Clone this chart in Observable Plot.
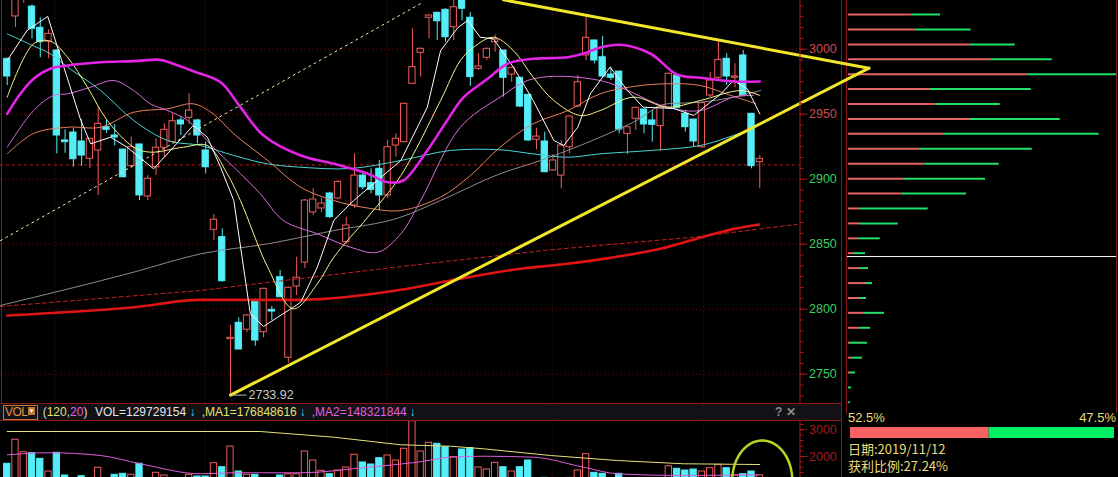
<!DOCTYPE html>
<html><head><meta charset="utf-8">
<script src="https://cdn.jsdelivr.net/npm/d3@7"></script>
<script src="https://cdn.jsdelivr.net/npm/@observablehq/plot@0.6"></script>
<style>
html,body{margin:0;padding:0;background:#000;}
#root{position:relative;width:1118px;height:477px;overflow:hidden;background:#000;font-family:"Liberation Sans",Arial,"Noto Sans CJK SC",sans-serif;}
.abs{position:absolute;white-space:nowrap;}
.layer{position:absolute;left:0;top:0;}
</style></head><body><div id="root"></div>
<script>
// ---------------- DATA ----------------
const opens  = [2992.6,3025.2,3040,3032.8,3016.5,3005.7,2999,2929.8,2935.9,2929,2915.7,2922.1,2940,2933.6,2922.8,2910,2926.7,2886.7,2909.2,2924.2,2928.5,2945.2,2947.2,2945.2,2922.1,2861.1,2855.4,2777,2789.5,2784.2,2806.7,2782.3,2799.5,2824.6,2762.6,2817.5,2835.9,2874.4,2877.5,2889,2885.2,2851.5,2879.8,2902.8,2896.9,2908,2887.5,2925.9,2928.5,2973.4,2997.2,3024.2,3028,3030.3,3016.9,3040,3024.2,2984.9,2993.4,3005.4,2999,2980.5,2978,2964.9,2930.3,2929,2906.7,2902.8,2924.6,2955.9,2995.2,3006.7,2993.8,2980.5,2982.8,2934.9,2946.5,2953.6,2945.2,2940.8,2954.9,2979.8,2950.3,2945.9,2924.6,2964.4,2978,2992.6,2978,2995.2,2950.3,2913.1];
const highs  = [2993,3042,3052,3034,3024.2,3014.9,2999.5,2938,2938.8,2945.7,2931.1,2954.9,2945.2,2942.1,2923,2932.3,2927,2902.8,2931.1,2942.6,2950.3,2947.7,2965.7,2946,2928.5,2872.8,2861.8,2787.5,2793.4,2796,2808,2816,2802.1,2829.8,2817,2840,2884.4,2892.8,2885.2,2890,2899,2870.8,2919.5,2905,2908,2914.4,2929.8,2934.9,2958.5,3015.7,3001,3026.5,3028.5,3031,3040,3042,3028.2,2996.5,3001,3011,2999,2986,2978,2965,2939.2,2936.2,2919,2929.8,2948.5,2979.8,3024.6,3007,3009.8,2986.2,2983,2940.5,2955,2954,2952.8,2956,2981.5,2980,2952.8,2946,2959,2982.3,3007.2,2996.5,2988.8,2999,2950.5,2918.2];
const lows   = [2972,3016.7,3035.2,3008,2993.4,2992.6,2919.5,2920,2909.2,2909.8,2908,2887.5,2935.2,2925.4,2901,2908.2,2883.6,2883.6,2902.8,2916.9,2928,2933.6,2942.1,2927.2,2904.2,2852.8,2821,2733.92,2769,2782,2771.5,2778,2791.3,2809,2758.5,2810.5,2831.3,2872,2874.4,2869.8,2884,2850,2877.5,2892,2888.8,2875.9,2885.2,2916.9,2928,2973,2978.5,3008,3006.7,3005.4,3006.7,3022,2971.3,2983.6,2991.3,2997.7,2963.1,2974.6,2955,2929,2922.6,2905,2906,2892.6,2919.5,2955,2991.3,2988.8,2977.5,2975.9,2934.9,2919,2937.5,2934.9,2928.5,2921.5,2954,2954,2936.2,2924.6,2924,2962.8,2976.7,2972.1,2970.3,2964,2908,2892.6];
const closes = [2979,3038,3048,3015.7,3005.4,3011.8,2933.6,2928.5,2915.4,2918.2,2931.1,2942.6,2938,2932.1,2901.5,2924.6,2887.5,2900.3,2924.2,2938,2944.6,2942.1,2952.8,2933.6,2909.2,2868.8,2821.5,2778,2769,2795.2,2775.9,2815.7,2798.2,2809.2,2816.5,2824.2,2883.6,2884.4,2881.3,2870.8,2897.9,2864.4,2902.8,2893.8,2891.8,2887.5,2924.6,2931.1,2958,2986.2,3000.3,3025.9,3021.5,3009.2,3032.3,3031.1,2978.5,2986.7,3000.3,3007.5,2978,2985.7,2955.9,2929.8,2932.8,2905.4,2914.4,2925.9,2948.2,2974.6,3008.8,2991.3,2979,2978,2938.2,2940,2954.9,2942.1,2941.8,2955.4,2981.1,2954.9,2940,2929,2958.5,2975.9,2991.8,2979,2979,2964.4,2910,2915.7];
const volumes = [1727,2626,2161,2124,1914,1438,2139,1289,1150,1262,1100,1577,1000,1315,1352,1315,1727,1150,1390,1289,1100,1000,1315,1251,1251,1749,1599,2375,1438,1315,1315,1150,1100,1289,1337,1337,2187,1850,1465,1337,1476,1588,2064,1775,1701,1936,2038,1850,2289,3320,2187,2513,2476,2348,1974,2262,2311,1588,1513,1764,1599,1438,1599,1850,1150,1200,1100,1150,1200,1476,2088,1390,1352,1150,1352,1150,1100,1100,1050,1150,1637,1540,1476,1513,1438,1562,1689,1562,1300,1337,1438,1297];

// moving-average style lines: [candle index, price]
const maWhite = [[0,2991.3],[2.4,3014.4],[4.9,3025.2],[8.9,2945.2],[10.1,2927.2],[12.5,2932.3],[14.5,2924.6],[17.7,2908],[20.1,2924.6],[22.5,2941.3],[24.2,2932.3],[25.8,2909.2],[27.4,2883.6],[29.4,2796.4],[31,2786.7],[32.7,2793.8],[34.6,2801.5],[35.5,2805.4],[37.5,2832.3],[39.5,2868.4],[41.9,2883.6],[47.6,2914.4],[50.8,2955.4],[52.4,2998.8],[54.5,3016.7],[55.7,3022.1],[57.2,3009.2],[58.8,3008],[61.2,2986.2],[63.6,2960.6],[66.1,2929.8],[67.3,2925.9],[69,2940],[70.5,2965.6],[71.7,2975.9],[72.9,2986.2],[75,2968.2],[76.9,2955.4],[80.6,2954.4],[83,2949],[86.3,2965.6],[87.8,2975.9],[89.5,2969.5],[91,2950.3]];
const maYellow = [[0,2963.1],[3.2,3004.2],[5.2,3006.2],[7.3,2993.8],[9.7,2970.8],[12.1,2945.2],[15.3,2924.6],[17.3,2920.8],[21.3,2924.6],[24.2,2925.9],[26.6,2904.2],[28.2,2883.6],[31.5,2832.3],[34.6,2800.3],[37.5,2819.5],[39.5,2840],[43.6,2870.8],[47.6,2902.8],[52.4,2960.5],[54.8,2991.3],[56.4,3001.5],[58.8,3009.2],[61.2,2999],[63.6,2978.5],[66.1,2960.5],[69.3,2949],[71.7,2952.8],[75.7,2963.1],[79.8,2955.4],[83.8,2960.5],[88.7,2968.2],[91,2964.4]];
const maPink = [[0,2924.6],[3.2,2952.8],[5.6,2964.4],[7.3,2965.7],[10.1,2970.8],[12.9,2975.9],[15.3,2968.2],[17.3,2958],[19.4,2952.8],[21.8,2945.2],[24.9,2924.6],[27.4,2909.2],[30.6,2888.8],[33.4,2868.2],[37.5,2858],[41.5,2847.7],[44.8,2843.8],[47.6,2858],[50,2883.6],[54.8,2940],[59.6,2963.1],[63.6,2977.2],[71.7,2975.9],[79.8,2955.4],[83.8,2952.8],[87.8,2963.1],[90.2,2964.4]];
const maSalmon = [[0,2919.5],[3.2,2935.2],[7.3,2940],[11.3,2940],[15.3,2951.5],[19.4,2954.2],[22.5,2958],[24.9,2950.3],[27.4,2934.9],[31.5,2914.4],[35.5,2893.8],[39.5,2883.6],[43.9,2877.5],[47.6,2875.9],[52.4,2886.2],[56,2902.8],[59.6,2924.6],[63.6,2942.6],[67.8,2952.8],[71.7,2965.7],[75.7,2971.3],[79.8,2973.4],[83.8,2972.1],[87.5,2964.4],[90.5,2958.2]];
const maCyan = [[0,3011.8],[3.2,3002.5],[5.2,2996.5],[7.3,2986.2],[11.3,2968.2],[15.3,2945.2],[19.4,2929.8],[23.4,2925.9],[27.4,2918.2],[31.5,2911.8],[35.5,2909.2],[41.5,2908.2],[47.6,2914.4],[53.6,2922.1],[59.6,2922.6],[63.6,2919.5],[67.8,2916.9],[71.7,2919.5],[77.8,2922.1],[83.8,2925.9],[87.8,2933.6],[89.9,2938.8]];
const maGray = [[-0.81,2802.9],[15.3,2828.5],[23.4,2842.6],[31.5,2850.3],[39.5,2860.5],[47.6,2870.8],[52.4,2883.6],[59.6,2904.2],[64.5,2914.4],[71.7,2932.3],[75.7,2943.8],[79.8,2958],[83.8,2959.2],[87.8,2963.1],[91.1,2968.2]];
const maMagenta = [[0,2950.3],[1.6,2965.7],[3.2,2977.2],[5.2,2984.9],[7.3,2987.5],[11.3,2990],[15.3,2990.8],[18.5,2991.8],[20.1,2988.8],[22.5,2983.1],[25.8,2974.6],[28.2,2955.4],[31,2933.6],[35.5,2918.2],[39.5,2911.8],[43.6,2904.2],[46,2897.7],[47.9,2899],[50.8,2922.1],[53.2,2945.2],[55.2,2963.1],[58.1,2977.2],[60.5,2988.8],[63.6,2992.6],[67.8,2993.8],[70.2,2997.7],[71.7,3001.3],[74.2,3003.4],[77.8,2996.5],[81,2980.5],[83.8,2978],[87.8,2975.2],[91,2975.2]];
const maRedThick = [[0,2795.2],[15.3,2801.5],[23.4,2807.2],[35.5,2807.2],[47.6,2814.9],[53.6,2822.1],[62.1,2831.1],[67.7,2834.9],[72.9,2839.5],[79,2846.5],[84,2855.4],[87.9,2861.8],[90.9,2865.2]];
const maRedDash = [[-0.81,2802.1],[23.4,2814.4],[47.6,2832.8],[65.7,2845.7],[83.8,2855.9],[91,2861.8],[95.5,2865.2]];

// drawn lines on the chart: [candle index, price]
const dottedChannel = [[-0.81,2852.8],[50.3,3036.2]];
const trendLower = [[27,2733.92],[104.2,2985.4]];
const trendUpper = [[60,3038],[104.2,2985.4]];
const lowLabel = {i: 27, price: 2733.92, text: "2733.92"};
const refPrice = 2911;

// price axis
const priceTicks = [3000,2950,2900,2850,2800,2750];
const monthGrid = [5.8,23.9,45.9,65.9,84.2];

// volume panel
const volMA1 = [[0,2936],[30.6,2936],[39.5,2723],[47.6,2438],[53.6,2386],[57.6,2288],[65.7,2037],[73.8,1850],[81.8,1727],[91,1700]];
const volMA2 = [[0,2064],[5.2,2139],[11.3,2037],[16.1,1727],[23.4,1352],[27.4,1390],[35.5,1390],[43.6,1599],[49.6,1787],[53.6,1974],[57.6,2011],[63.6,1974],[69.7,1599],[73.8,1352],[81.8,1289],[90.8,1315]];
const volTicks = [3000,2000];
const volEllipse = {i: 91.3, v: 1101, ri: 3.63, rv: 1498};

// chip distribution panel
const chipPrices = [3026.7,3015.2,3003.7,2992.2,2980.8,2969.3,2957.8,2946.3,2934.9,2923.4,2911.9,2900.4,2889.0,2877.5,2866.0,2854.5,2843.1,2831.6,2820.1,2808.6,2797.2,2785.7,2774.2,2762.7,2751.3,2739.8,2728.3];
const chipProfit = [63.7,68,121.3,142.7,179.7,81.3,87.7,122,96,72,76.3,56,53.7,12,12,10.3,6,12,17,11,16,12,2,4,1,0,0];
const chipLoss   = [28.3,54.7,45.4,61,88.3,101.4,64,89.7,154.7,111.7,74.4,81,64.3,67.7,37.7,21.4,11,8,7,7,20,10,17,10,6,3,2];
const avgCost = 2840.5;
const ratio = [{label:"52.5%", v:52.5}, {label:"47.5%", v:47.5}];

// ---------------- LAYOUT ----------------
const W = 1118, X0 = 6.7, DX = 8.27;
const xDomain = [-X0/DX, (W - X0)/DX];
const axisI = (799.5 - X0)/DX;
const yMain = [2727.46, 3037.46];
const RED = "#f25c5c", CYAN = "#54eef8";
const root = document.getElementById("root");
const font = "Liberation Sans, Arial, sans-serif";

const candles = opens.map((o, i) => ({i, o, h: highs[i], l: lows[i], c: closes[i], v: volumes[i], up: closes[i] >= o}));

function place(el, left, top) {
  const d = document.createElement("div");
  d.className = "layer"; d.style.left = left + "px"; d.style.top = top + "px";
  d.appendChild(el); root.appendChild(d); return d;
}
function box(left, top, w, h, css) {
  const d = document.createElement("div");
  d.className = "abs";
  Object.assign(d.style, {left: left+"px", top: top+"px", width: w+"px", height: h+"px"}, css);
  root.appendChild(d); return d;
}
function txt(left, top, html, css) {
  const d = document.createElement("div");
  d.className = "abs";
  d.style.left = left + "px"; d.style.top = top + "px";
  Object.assign(d.style, css || {});
  d.innerHTML = html; root.appendChild(d); return d;
}

// ---- chip distribution (bottom layer) ----
const chipRows = chipPrices.map((p, k) => ({p, a: chipProfit[k], b: chipLoss[k]}));
const chip = Plot.plot({
  width: W, height: 403, margin: 0,
  x: {domain: [0, 268], range: [848, 1116], axis: null},
  y: {domain: yMain, axis: null},
  style: {background: "transparent", overflow: "hidden"},
  marks: [
    Plot.ruleY(chipRows, {y: "p", x1: 0, x2: "a", stroke: "#e46464", strokeWidth: 2}),
    Plot.ruleY(chipRows, {y: "p", x1: "a", x2: d => d.a + d.b, stroke: "#22e06a", strokeWidth: 2}),
    Plot.ruleY([avgCost], {x1: -1, x2: 268, stroke: "#ffffff", strokeWidth: 1})
  ]
});
place(chip, 0, 0);

// ---- frame lines ----
const frameRed = "#8e1616";
box(1, 0, 1, 403, {background: frameRed});
box(841, 0, 1, 477, {background: frameRed});
box(846, 0, 1, 413, {background: frameRed});
box(1116, 0, 1, 413, {background: frameRed});

// ---- volume header bar ----
box(0, 403, 841, 18, {background: "#111116", borderTop: "1px solid " + frameRed, borderBottom: "1px solid " + frameRed, boxSizing: "border-box"});

// ---- main price chart ----
const minorTicks = d3.range(2733.333, 3037, 50/6);
const main = Plot.plot({
  width: W, height: 403, margin: 0,
  x: {domain: xDomain, axis: null},
  y: {domain: yMain, axis: null},
  style: {background: "transparent", overflow: "hidden", fontFamily: font},
  marks: [
    Plot.ruleY(priceTicks, {x1: xDomain[0], x2: axisI, stroke: "#6a0c0c", strokeDasharray: "1,3"}),
    Plot.ruleX(monthGrid, {y1: yMain[0], y2: yMain[1], stroke: "#6a0c0c", strokeDasharray: "1,3"}),
    Plot.ruleY([refPrice], {x1: xDomain[0], x2: axisI, stroke: "#b01c1c", strokeDasharray: "3,3"}),
    // candles
    Plot.ruleX(candles, {x: "i", y1: "l", y2: "h", stroke: d => d.up ? RED : CYAN}),
    Plot.rect(candles, {x1: d => d.i - 0.38, x2: d => d.i + 0.38, y1: d => Math.min(d.o, d.c), y2: d => Math.max(d.o, d.c),
      fill: d => d.up ? "#000000" : CYAN, stroke: d => d.up ? RED : CYAN, strokeWidth: 1}),
    // lines
    Plot.line(maRedDash, {stroke: "#c42020", strokeWidth: 1, strokeDasharray: "4,3"}),
    Plot.line(maGray, {stroke: "#8c8c8c", strokeWidth: 1, curve: "monotone-x"}),
    Plot.line(maRedThick, {stroke: "#e01414", strokeWidth: 2.6, curve: "monotone-x"}),
    Plot.line(maCyan, {stroke: "#46d6d6", strokeWidth: 1, curve: "catmull-rom"}),
    Plot.line(maSalmon, {stroke: "#e8805e", strokeWidth: 1, curve: "catmull-rom"}),
    Plot.line(maPink, {stroke: "#d86cd8", strokeWidth: 1, curve: "catmull-rom"}),
    Plot.line(maYellow, {stroke: "#f4f48a", strokeWidth: 1, curve: "catmull-rom"}),
    Plot.line(maWhite, {stroke: "#ffffff", strokeWidth: 1}),
    Plot.line(maMagenta, {stroke: "#e424e4", strokeWidth: 2.6, curve: "catmull-rom"}),
    Plot.line(dottedChannel, {stroke: "#f0f0a8", strokeWidth: 1, strokeDasharray: "2,4"}),
    Plot.line(trendLower, {stroke: "#f2e62a", strokeWidth: 3}),
    Plot.line(trendUpper, {stroke: "#f2e62a", strokeWidth: 3}),
    // low label
    Plot.ruleY([lowLabel], {y: "price", x1: d => d.i + 0.2, x2: d => d.i + 2, stroke: "#bdbdbd"}),
    Plot.text([lowLabel], {x: "i", y: "price", text: "text", dx: 18, textAnchor: "start", fill: "#c8c8c8", fontSize: 12.5}),
    // right axis
    Plot.ruleX([axisI], {y1: yMain[0], y2: yMain[1], stroke: "#a01a1a"}),
    Plot.ruleY(minorTicks, {x1: axisI, x2: axisI + 4/DX, stroke: "#a01a1a"}),
    Plot.ruleY(priceTicks, {x1: axisI, x2: axisI + 8/DX, stroke: "#a01a1a"}),
    Plot.text(priceTicks, {x: axisI, y: d => d, text: d => String(d), dx: 9, textAnchor: "start", fontSize: 12.5,
      fill: d => d > refPrice ? "#d04a4a" : "#3ccc62"})
  ]
});
place(main, 0, 0);

// ---- volume panel ----
const volMinor = d3.range(1400, 3300, 200);
const ell = d3.range(0, 361, 4).map(a => [volEllipse.i + volEllipse.ri * Math.cos(a * Math.PI/180), volEllipse.v + volEllipse.rv * Math.sin(a * Math.PI/180)]);
const vol = Plot.plot({
  width: W, height: 56, margin: 0,
  x: {domain: xDomain, axis: null},
  y: {domain: [1213.7, 3310.8], axis: null},
  style: {background: "transparent", overflow: "hidden", fontFamily: font},
  marks: [
    Plot.ruleX(monthGrid, {y1: 0, y2: 4000, stroke: "#6a0c0c", strokeDasharray: "1,3"}),
    Plot.rect(candles, {x1: d => d.i - 0.38, x2: d => d.i + 0.38, y1: 0, y2: "v",
      fill: d => d.up ? "#000000" : CYAN, stroke: d => d.up ? RED : CYAN}),
    Plot.line(volMA1, {stroke: "#e8e27a", strokeWidth: 1}),
    Plot.line(volMA2, {stroke: "#dc5cdc", strokeWidth: 1, curve: "monotone-x"}),
    Plot.ruleX([axisI], {y1: 0, y2: 4000, stroke: "#a01a1a"}),
    Plot.ruleY(volMinor, {x1: axisI, x2: axisI + 4/DX, stroke: "#a01a1a"}),
    Plot.ruleY(volTicks, {x1: axisI, x2: axisI + 8/DX, stroke: "#a01a1a"}),
    Plot.text(volTicks, {x: axisI, y: d => d, text: d => String(d), dx: 9, textAnchor: "start", fontSize: 12.5, fill: "#a01c1c"}),
    Plot.line(ell, {stroke: "#b4d622", strokeWidth: 2.5, curve: "linear"})
  ]
});
place(vol, 0, 421);

// ---- ratio bar ----
const rb = Plot.plot({
  width: 264, height: 11, margin: 0,
  x: {domain: [0, 100], axis: null},
  style: {background: "transparent"},
  marks: [Plot.barX(ratio, {x: "v", fill: (d, k) => k === 0 ? "#f86262" : "#00f064"})]
});
place(rb, 850, 427);

// ---- texts ----
const f12 = {fontSize: "12px", lineHeight: "16px"};
txt(3, 405, "", {width: "33px", height: "13px", border: "1px solid #c07a30"});
txt(5, 404, '<span style="color:#e49444">VOL</span>', Object.assign({letterSpacing: "-0.6px"}, f12));
txt(28, 407, '<span style="display:inline-block;width:7px;height:8px;background:#c07a30;color:#fff;font-size:6px;line-height:8px;text-align:center;vertical-align:top">▼</span>', {});
const hdr = [
  [42.7, '<span style="color:#d8d8d8">(</span><span style="color:#e8e070">120</span><span style="color:#d8d8d8">,</span><span style="color:#e060e0">20</span><span style="color:#d8d8d8">)</span>'],
  [95, '<span style="color:#e6e6e6">VOL=129729154</span>'],
  [189.5, '<span style="color:#40dcf0">↓</span>'],
  [201.7, '<span style="color:#e8e070">,MA1=176848616</span>'],
  [299.5, '<span style="color:#40dcf0">↓</span>'],
  [311.7, '<span style="color:#e060e0">,MA2=148321844</span>'],
  [409.5, '<span style="color:#40dcf0">↓</span>']
];
hdr.forEach(([x, h]) => txt(x, 404, h, f12));
txt(775, 404, '<span style="color:#8a8a8a;font-weight:bold">?</span>', f12);
txt(786, 404, '<span style="color:#8a8a8a;font-weight:bold">✕</span>', f12);

const yel = {color: "#e8dc7a", fontSize: "13px", lineHeight: "14px"};
const cjk = {fontFamily: '"Noto Sans CJK SC","Liberation Sans",sans-serif'};
txt(848, 411, "52.5%", yel);
txt(1116, 411, "47.5%", Object.assign({transform: "translateX(-100%)"}, yel));
txt(848, 442, "日期:2019/11/12", Object.assign({}, cjk, yel));
txt(848, 459, "获利比例:27.24%", Object.assign({}, cjk, yel));
</script></body></html>
